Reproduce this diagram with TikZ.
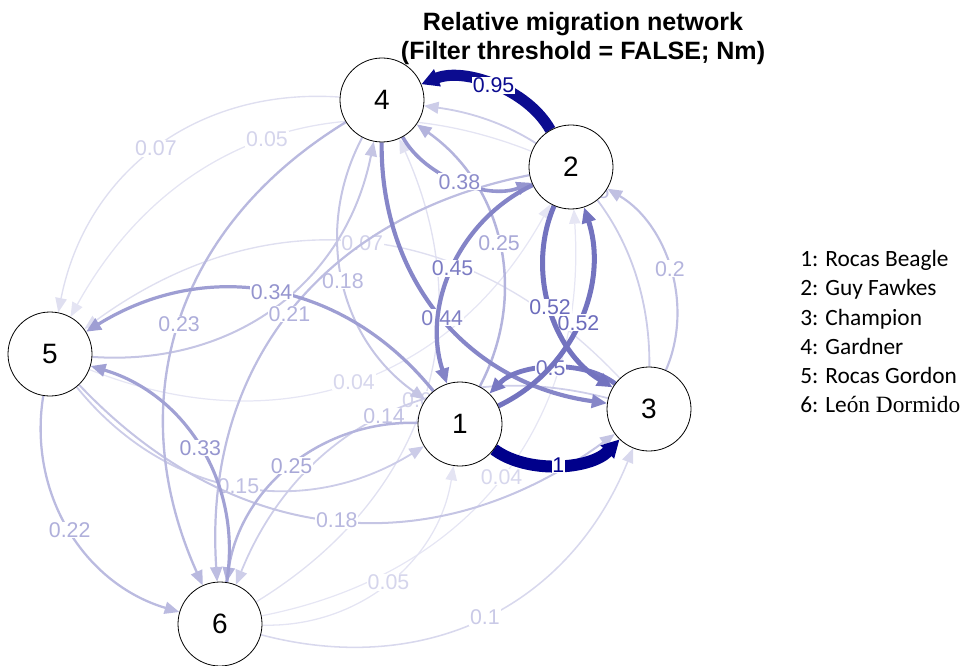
\documentclass[tikz,border=0pt]{standalone}
\usepackage{fontspec}
\setmainfont{Liberation Sans}
\newfontfamily\legfont{Carlito}
\newfontfamily\legserif{Liberation Serif}
\usepackage{tikz}
\usetikzlibrary{arrows.meta, calc, backgrounds}

\definecolor{qnavy}{RGB}{0,0,139}

\begin{document}
\begin{tikzpicture}[
    x=0.75pt, y=-0.75pt,
    site/.style={circle, draw=black, line width=0.6pt, fill=white,
                 minimum size=63pt, inner sep=0pt,
                 font=\fontsize{21}{21}\selectfont},
    mig/.style={draw=qnavy!#1!white!94!qnavy, text=qnavy!#1!white!88!qnavy,
                line width={0.8pt+0.03pt*#1+0.000525pt*#1*#1},
                -{Triangle[length=10.5pt 0.3, width=8pt 0.6]},
                to path={.. controls ($(\tikztostart)!1/3!(\tikztotarget)!0.44!-90:(\tikztotarget)$)
                         and ($(\tikztostart)!2/3!(\tikztotarget)!0.44!90:(\tikztostart)$)
                         .. (\tikztotarget) \tikztonodes}},
    wlab/.style={fill=white, inner sep=0.6pt, font=\fontsize{16}{16}\selectfont},
    heading/.style={font=\bfseries\fontsize{18.8}{22}\selectfont, anchor=base},
    leg/.style={font=\legfont\fontsize{17.5}{21}\selectfont, anchor=base west, inner sep=0pt},
]
    \useasboundingbox (0,0) rectangle (962,666);

    % Title
    \node[heading] (title) at (583,31) {Relative migration network};
    \node[heading] (subtitle) at (583,60) {(Filter threshold = FALSE; Nm)};

    % Sites
    \node[site] (n1) at (460,424) {1};
    \node[site] (n2) at (571,167) {2};
    \node[site] (n3) at (649,409) {3};
    \node[site] (n4) at (382,100) {4};
    \node[site] (n5) at (50,354) {5};
    \node[site] (n6) at (220,624) {6};

    % Migration edges (weak ones first)
    \begin{scope}[on background layer]
    \draw[mig=4] (n5) to node[wlab] {0.04} (n2);
    \draw[mig=4] (n6) to node[wlab] {0.04} (n2);
    \draw[mig=5] (n2) to node[wlab] {0.05} (n5);
    \draw[mig=5] (n6) to node[wlab] {0.05} (n1);
    \draw[mig=6] (n6) to node[wlab] {0.06} (n4);
    \draw[mig=7] (n3) to node[wlab] {0.07} (n5);
    \draw[mig=7] (n4) to node[wlab] {0.07} (n5);
    \draw[mig=10] (n6) to node[wlab] {0.1} (n3);
    \draw[mig=14] (n3) to node[wlab] {0.14} (n6);
    \draw[mig=15] (n5) to node[wlab] {0.15} (n1);
    \draw[mig=15] (n3) to node[wlab] {0.15} (n4);
    \draw[mig=18] (n4) to node[wlab] {0.18} (n1);
    \draw[mig=18] (n5) to node[wlab] {0.18} (n3);
    \draw[mig=18] (n5) to (n4);
    \draw[mig=20] (n3) to node[wlab] {0.2} (n2);
    \draw[mig=21] (n2) to node[wlab] {0.21} (n6);
    \draw[mig=22] (n5) to node[wlab] {0.22} (n6);
    \draw[mig=23] (n4) to node[wlab] {0.23} (n6);
    \draw[mig=25] (n1) to node[wlab] {0.25} (n4);
    \draw[mig=25] (n1) to node[wlab] {0.25} (n6);
    \draw[mig=33] (n6) to node[wlab] {0.33} (n5);
    \draw[mig=34] (n1) to node[wlab] {0.34} (n5);
    \draw[mig=38] (n4) to node[wlab] {0.38} (n2);
    \draw[mig=44] (n4) to node[wlab] {0.44} (n3);
    \draw[mig=45] (n2) to node[wlab] {0.45} (n1);
    \draw[mig=50] (n3) to node[wlab] {0.5} (n1);
    \draw[mig=52] (n1) to node[wlab] {0.52} (n2);
    \draw[mig=52] (n2) to node[wlab] {0.52} (n3);
    \draw[mig=95] (n2) to node[wlab] {0.95} (n4);
    \draw[mig=100] (n1) to node[wlab] {1} (n3);
    \end{scope}

    % Legend
    \node[leg] (site1) at (800,267) {1: Rocas Beagle};
    \node[leg] (site2) at (800,296) {2: Guy Fawkes};
    \node[leg] (site3) at (800,325) {3: Champion};
    \node[leg] (site4) at (800,354) {4: Gardner};
    \node[leg] (site5) at (800,383) {5: Rocas Gordon};
    \node[leg] (site6) at (800,412) {6: Le{\legserif ón Dormido}};
\end{tikzpicture}
\end{document}
